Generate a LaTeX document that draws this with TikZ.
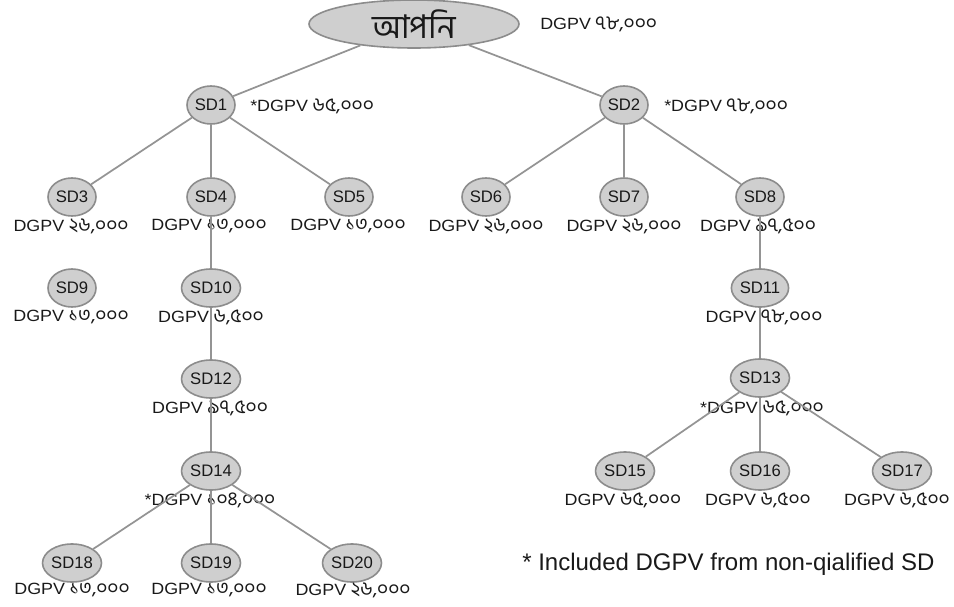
\documentclass[tikz,border=0pt]{standalone}
\usepackage{fontspec}
\setmainfont{Liberation Sans}
\newfontfamily\bnfont[Script=Bengali]{Hind Siliguri}
\newfontfamily\lblfont[FakeStretch=1.1]{Liberation Sans}
\usetikzlibrary{shapes.geometric}
\newcommand{\dgpv}[1]{{\lblfont DGPV} {\bnfont\fontsize{14.5}{15}\selectfont #1}}
\newcommand{\sdgpv}[1]{{\lblfont *DGPV} {\bnfont\fontsize{14.5}{15}\selectfont #1}}

\begin{document}
\begin{tikzpicture}[x=0.75pt,y=-0.75pt,
    member/.style={ellipse,draw=black!45,fill=black!19,line width=1.2pt,inner sep=0pt,
      minimum width=36pt,minimum height=28.5pt,font=\fontsize{12.5}{13}\selectfont,text=black!90},
    value/.style={inner sep=0pt,font=\fontsize{12.2}{13}\selectfont,text=black!90},
    link/.style={draw=black!42,line width=1.3pt}]

    \useasboundingbox (0,0) rectangle (954,607);

    %top node
    \node [member,minimum width=157.5pt,minimum height=36pt,font=\bnfont\fontsize{24.5}{26}\selectfont] (root) at (414,24) {আপনি};
    \node [value,anchor=west] (v0) at (540,24) {\dgpv{৭৮,০০০}};

    %first line
    \node [member] (sd1) at (211,105) {SD1};
    \node [member] (sd2) at (624,105) {SD2};
    \node [value,anchor=west] (v1) at (250,106) {\sdgpv{৬৫,০০০}};
    \node [value,anchor=west] (v2) at (664,106) {\sdgpv{৭৮,০০০}};

    %second line
    \node [member] (sd3) at (72,197) {SD3};
    \node [member] (sd4) at (211,197) {SD4};
    \node [member] (sd5) at (349,197) {SD5};
    \node [member] (sd6) at (486,197) {SD6};
    \node [member] (sd7) at (624,197) {SD7};
    \node [member] (sd8) at (760,197) {SD8};
    \node [value] (v3) at (71,226) {\dgpv{২৬,০০০}};
    \node [value] (v4) at (209,226) {\dgpv{১৩,০০০}};
    \node [value] (v5) at (348,226) {\dgpv{১৩,০০০}};
    \node [value] (v6) at (486,226) {\dgpv{২৬,০০০}};
    \node [value] (v7) at (624,226) {\dgpv{২৬,০০০}};
    \node [value] (v8) at (758,226) {\dgpv{৯৭,৫০০}};

    %third line
    \node [member] (sd9) at (72,288) {SD9};
    \node [member] (sd10) at (211,288) {SD10};
    \node [member] (sd11) at (760,288) {SD11};
    \node [value] (v9) at (71,317) {\dgpv{১৩,০০০}};
    \node [value] (v10) at (211,317) {\dgpv{৬,৫০০}};
    \node [value] (v11) at (764,317) {\dgpv{৭৮,০০০}};

    %fourth line
    \node [member] (sd12) at (211,379) {SD12};
    \node [member] (sd13) at (760,378) {SD13};
    \node [value] (v12) at (210,408) {\dgpv{৯৭,৫০০}};
    \node [value] (v13) at (762,408) {\sdgpv{৬৫,০০০}};

    %fifth line
    \node [member] (sd14) at (211,471) {SD14};
    \node [member] (sd15) at (625,471) {SD15};
    \node [member] (sd16) at (760,471) {SD16};
    \node [member] (sd17) at (902,471) {SD17};
    \node [value] (v14) at (210,500) {\sdgpv{১০৪,০০০}};
    \node [value] (v15) at (623,500) {\dgpv{৬৫,০০০}};
    \node [value] (v16) at (758,500) {\dgpv{৬,৫০০}};
    \node [value] (v17) at (897,500) {\dgpv{৬,৫০০}};

    %last line
    \node [member] (sd18) at (72,563) {SD18};
    \node [member] (sd19) at (211,563) {SD19};
    \node [member] (sd20) at (352,563) {SD20};
    \node [value] (v18) at (72,590) {\dgpv{১৩,০০০}};
    \node [value] (v19) at (209,590) {\dgpv{১৩,০০০}};
    \node [value] (v20) at (353,590) {\dgpv{২৬,০০০}};

    %note
    \node [value,anchor=west,font=\fontsize{18}{20}\selectfont] (note) at (522,564) {* Included DGPV from non-qialified SD};

    %edges
    \draw [link] (root) -- (sd1);
    \draw [link] (root) -- (sd2);
    \draw [link] (sd1) -- (sd3);
    \draw [link] (sd1) -- (sd4);
    \draw [link] (sd1) -- (sd5);
    \draw [link] (sd2) -- (sd6);
    \draw [link] (sd2) -- (sd7);
    \draw [link] (sd2) -- (sd8);
    \draw [link] (sd4) -- (sd10);
    \draw [link] (sd10) -- (sd12);
    \draw [link] (sd12) -- (sd14);
    \draw [link] (sd14) -- (sd18);
    \draw [link] (sd14) -- (sd19);
    \draw [link] (sd14) -- (sd20);
    \draw [link] (sd8) -- (sd11);
    \draw [link] (sd11) -- (sd13);
    \draw [link] (sd13) -- (sd15);
    \draw [link] (sd13) -- (sd16);
    \draw [link] (sd13) -- (sd17);
\end{tikzpicture}
\end{document}
